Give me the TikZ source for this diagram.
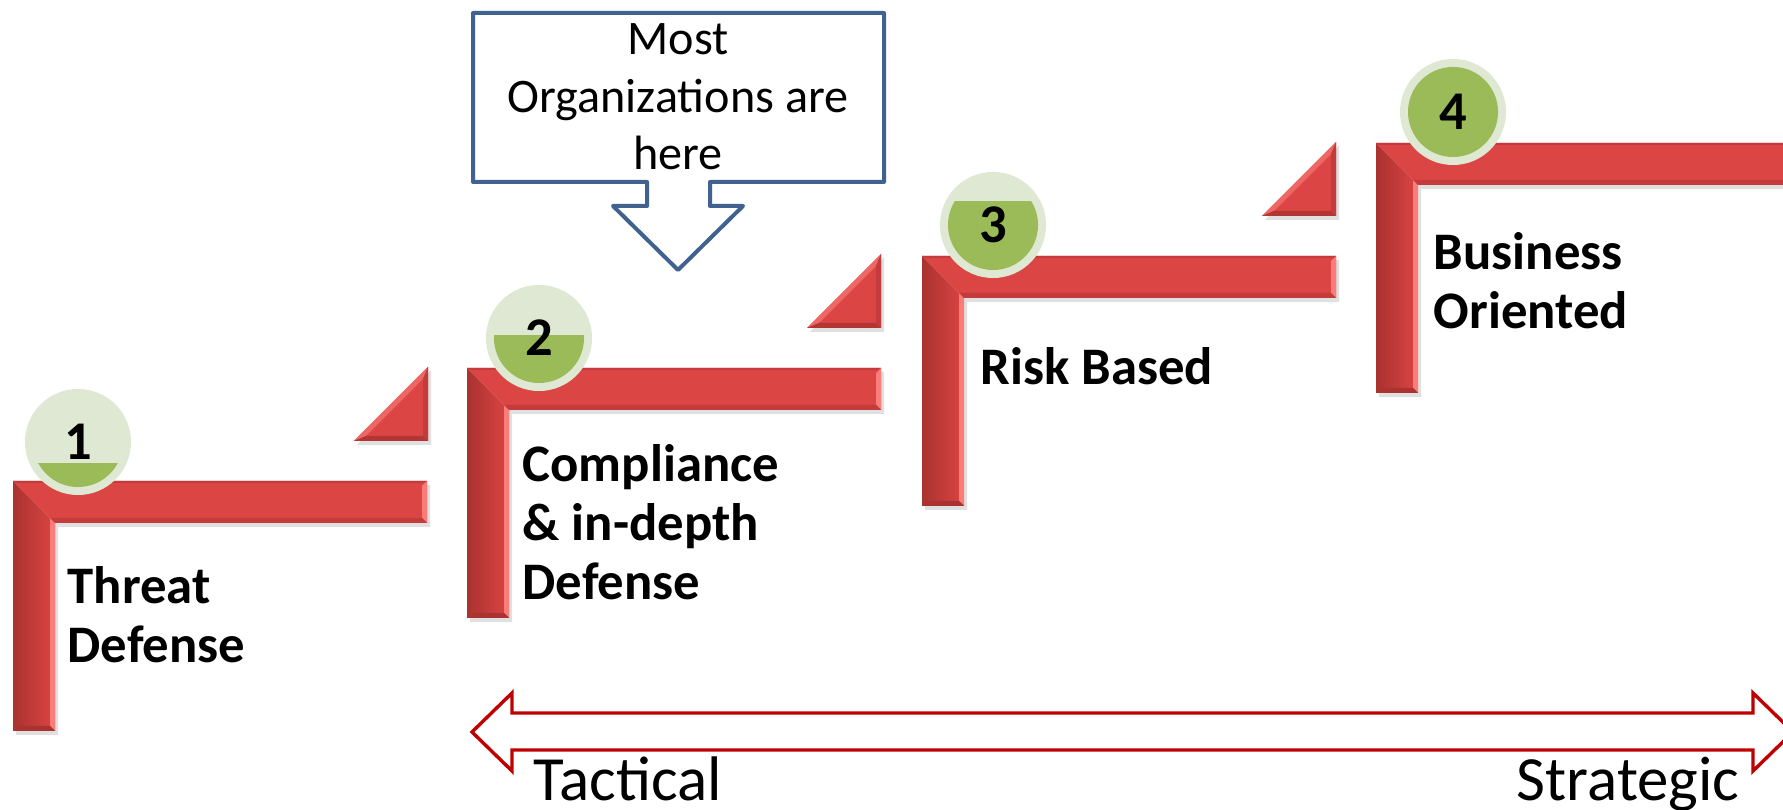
\documentclass[tikz,border=0pt]{standalone}
\usepackage{fontspec}
\setmainfont{Carlito}

\definecolor{barred}{RGB}{219,69,67}
\definecolor{bardark}{RGB}{170,50,48}
\definecolor{barlight}{RGB}{250,125,122}
\definecolor{badgelight}{RGB}{222,232,210}
\definecolor{badgegreen}{RGB}{155,187,89}
\definecolor{calloutblue}{RGB}{65,98,145}
\definecolor{arrowred}{RGB}{192,0,0}

\tikzset{
  % one L-shaped stair bar, origin at its outer corner
  stairbar/.pic={
    \fill[black, opacity=.12] (3,-4) -- (417,-4) -- (417,-46) -- (45,-46) -- (45,-254) -- (3,-254) -- cycle;
    \shade[left color=bardark, right color=barred] (0,0) -- (42,-42) -- (42,-250) -- (0,-250) -- cycle;
    \fill[barred] (0,0) -- (414,0) -- (414,-42) -- (42,-42) -- cycle;
    \fill[barlight] (37,-37) -- (42,-42) -- (42,-250) -- (37,-245) -- cycle;
    \fill[barlight] (409,-5) -- (414,0) -- (414,-42) -- (409,-37) -- cycle;
    \fill[bardark] (0,-250) -- (5,-245) -- (37,-245) -- (42,-250) -- cycle;
    \fill[bardark!50!barred] (42,-42) -- (37,-37) -- (409,-37) -- (414,-42) -- cycle;
    \fill[bardark!50!barred] (0,0) -- (414,0) -- (411,-2) -- (2,-2) -- cycle;
  },
  % small wedge, origin at its right-angle corner
  riser/.pic={
    \fill[black, opacity=.12] (-71,-4) -- (3,-4) -- (3,71) -- cycle;
    \fill[barred] (-74,0) -- (0,0) -- (0,74) -- cycle;
    \fill[barlight!60!barred] (-74,0) -- (0,74) -- (-5,62) -- (-62,5) -- cycle;
    \fill[bardark!80!barred] (-74,0) -- (0,0) -- (-5,5) -- (-62,5) -- cycle;
    \fill[bardark!50!barred] (0,0) -- (0,74) -- (-5,62) -- (-5,5) -- cycle;
  },
  badge/.style={circle, fill=badgelight, minimum size=1.06cm, inner sep=0,
    font=\bfseries\fontsize{15.5}{17}\selectfont,
    path picture={
      \clip (path picture bounding box.center) circle[radius=0.45cm];
      \fill[badgegreen] (path picture bounding box.center) ++(-60,#1) rectangle ++(120,-120);
    }},
  steplabel/.style={font=\bfseries\fontsize{15}{16.9}\selectfont, align=left, anchor=base west, inner sep=0},
  calltext/.style={font=\fontsize{13.7}{16.4}\selectfont, align=center, inner sep=0},
  axistext/.style={font=\fontsize{17.9}{20}\selectfont, anchor=base west, inner sep=0}
}

\begin{document}
\begin{tikzpicture}[x=0.01cm, y=0.01cm]
  \useasboundingbox (0,0) rectangle (1783,810);

  % Stair bars
  \pic at (13,329) {stairbar};
  \pic at (467,442) {stairbar};
  \pic at (922,554) {stairbar};
  \pic at (1376,667) {stairbar};

  % Wedges before each rise
  \pic at (428,369) {riser};
  \pic at (881,482) {riser};
  \pic at (1336,594) {riser};

  % Level badges
  \node[badge=-21] (lvl1) at (78,368) {1};
  \node[badge=3] (lvl2) at (539,472) {2};
  \node[badge=24] (lvl3) at (993,585) {3};
  \node[badge=60] (lvl4) at (1453,698) {4};

  % Level captions (base = last line)
  \node[steplabel] (cap1) at (67,147) {Threat\\Defense};
  \node[steplabel] (cap2) at (522,210) {Compliance\\\& in-depth\\Defense};
  \node[steplabel] (cap3) at (980,425) {Risk Based};
  \node[steplabel] (cap4) at (1433,481) {Business\\Oriented};

  % Callout pointing down at level 2
  \draw[calloutblue, line width=0.04cm, line join=round, fill=white]
    (473,797) -- (884,797) -- (884,628) -- (710,628) -- (710,604) -- (743,604)
    -- (678,540) -- (613,604) -- (647,604) -- (647,628) -- (473,628) -- cycle;
  \node[calltext, anchor=base] (crowd) at (678,640) {Most\\Organizations are\\here};

  % Tactical to strategic span
  \coordinate (tacend) at (472,78);
  \coordinate (strend) at (1793,78);
  \draw[arrowred, line width=0.034cm, line join=miter]
    (tacend) -- (512,117) -- (512,97) -- (1753,97) -- (1753,117) -- (strend)
    -- (1753,39) -- (1753,60) -- (512,60) -- (512,39) -- cycle;
  \node[axistext] (tac) at (533,9) {Tactical};
  \node[axistext] (str) at (1516,9) {Strategic};
\end{tikzpicture}
\end{document}
